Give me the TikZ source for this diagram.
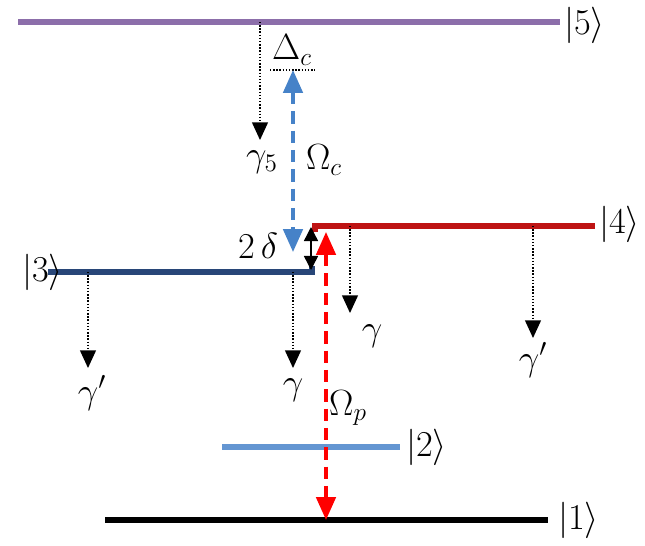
\documentclass[tikz,border=0pt]{standalone}
\usepackage{fontspec}
\setmainfont{Liberation Serif}
\usetikzlibrary{arrows.meta}
\definecolor{lv5}{RGB}{140,110,170}
\definecolor{lv4}{RGB}{190,20,20}
\definecolor{lv3}{RGB}{40,70,120}
\definecolor{lv2}{RGB}{100,150,210}
\definecolor{cblue}{RGB}{70,130,200}
\begin{document}
\begin{tikzpicture}[x=0.02cm,y=-0.02cm,
  lvl/.style={line width=3.5pt},
  ket/.style={font=\fontsize{20}{22}\selectfont,anchor=west,inner sep=1pt},
  lab/.style={font=\fontsize{20}{22}\selectfont\itshape},
  decay/.style={densely dotted,thick,-{Triangle[width=9pt,length=10pt]}},
  coup/.style={dash pattern=on 7pt off 4pt,line width=2pt,{Triangle[width=11pt,length=13pt]}-{Triangle[width=11pt,length=13pt]}}]
\useasboundingbox (0,0) rectangle (645,545);
\draw[lvl,lv5] (18,22) -- (560,22);
\node[ket] (k5) at (562,25) {$|5\rangle$};
\draw[lvl,lv4] (315,232) -- (315,226) -- (595,226);
\node[ket] (k4) at (597,224) {$|4\rangle$};
\draw[lvl,lv3] (48,272) -- (312,272) -- (312,266);
\node[ket] (k3) at (20,272) {$|3\rangle$};
\draw[lvl,lv2] (222,447) -- (400,447);
\node[ket] (k2) at (404,447) {$|2\rangle$};
\draw[lvl,black] (105,520) -- (548,520);
\node[ket] (k1) at (556,520) {$|1\rangle$};
% detuning
\coordinate (dl) at (270,70); \coordinate (dr) at (315,70);
\draw[densely dotted,thick] (dl) -- (dr);
\node[lab] (dc) at (292,50) {$\Delta_c$};
\coordinate (ct) at (293,70); \coordinate (cb) at (293,252);
\draw[cblue,coup] (ct) -- (cb);
\node[lab] (oc) at (324,160) {$\Omega_c$};
\coordinate (dt) at (311,227); \coordinate (db) at (311,270);
\draw[thick,{Triangle[width=8pt,length=8pt]}-{Triangle[width=8pt,length=8pt]}] (dt) -- (db);
\node[lab] (dd) at (258,246) {$2\,\delta$};
\coordinate (pt) at (326,232); \coordinate (pb) at (326,520);
\draw[red,coup] (pt) -- (pb);
\node[lab] (op) at (348,408) {$\Omega_p$};
% decays
\coordinate (a1) at (260,22); \coordinate (a2) at (260,140);
\draw[decay] (a1) -- (a2);
\node[lab] (g5) at (262,162) {$\gamma_5$};
\coordinate (b1) at (88,272); \coordinate (b2) at (88,368);
\draw[decay] (b1) -- (b2);
\node[lab] (g3a) at (92,393) {$\gamma'$};
\coordinate (c1) at (293,272); \coordinate (c2) at (293,368);
\draw[decay] (c1) -- (c2);
\node[lab] (g3b) at (293,390) {$\gamma$};
\coordinate (e1) at (350,226); \coordinate (e2) at (350,313);
\draw[decay] (e1) -- (e2);
\node[lab] (g4a) at (372,336) {$\gamma$};
\coordinate (f1) at (533,226); \coordinate (f2) at (533,338);
\draw[decay] (f1) -- (f2);
\node[lab] (g4b) at (533,360) {$\gamma'$};
\end{tikzpicture}
\end{document}
